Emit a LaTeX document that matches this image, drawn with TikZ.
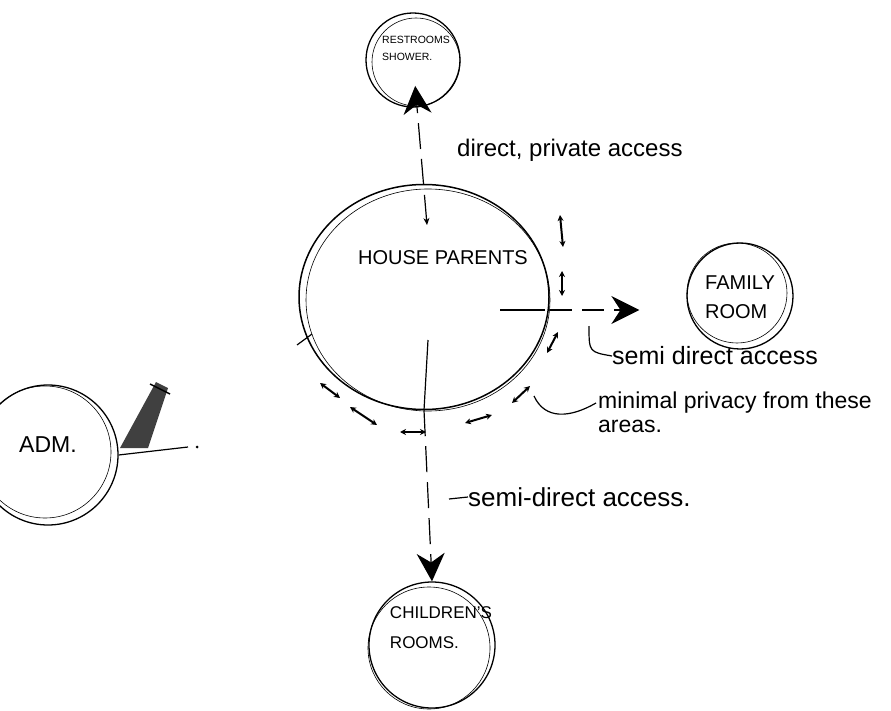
\documentclass[tikz,border=0pt]{standalone}
\usepackage{fontspec}
\setmainfont{Liberation Sans}
\usetikzlibrary{arrows.meta,shapes.geometric}
\begin{document}
\begin{tikzpicture}[x=1pt,y=-1pt,
  room/.style={circle,draw,line width=1.3pt,inner sep=0pt},
  lbl/.style={align=left,inner sep=0pt},
  note/.style={anchor=west,inner sep=0pt,font=\fontsize{24}{24}\selectfont},
  dbl/.style={line width=2pt,{Stealth[length=6pt,width=6pt]}-{Stealth[length=6pt,width=6pt]}},
  bighead/.style={-{Stealth[length=28pt,width=28pt]}},
  conn/.style={line width=1.2pt},
  dsh/.style={dash pattern=on 26pt off 10pt},
  sketch/.style={line width=0.6pt},
]
\useasboundingbox (0,0) rectangle (891,711);
% rooms
\node[room,minimum size=94pt] (rest) at (413,60) {};
\node[lbl,font=\fontsize{10.5}{17}\selectfont] (restl) at (416,48) {RESTROOMS\\SHOWER.};
\node[ellipse,draw,line width=1.5pt,minimum width=250pt,minimum height=225pt,inner sep=0pt] (hp) at (424,297) {};
\node[inner sep=0pt,font=\fontsize{20}{20}\selectfont] (hpl) at (443,258) {HOUSE PARENTS};
\node[room,minimum size=106pt] (fam) at (740,296) {};
\node[lbl,font=\fontsize{20}{29}\selectfont] (faml) at (740,297) {FAMILY\\ROOM};
\node[room,minimum size=140pt] (adm) at (48,455) {};
\node[inner sep=0pt,font=\fontsize{23}{23}\selectfont] (adml) at (48,445) {ADM.};
\node[room,minimum size=126pt] (child) at (432,645) {};
\node[lbl,font=\fontsize{17}{30}\selectfont] (childl) at (441,628) {CHILDREN'S\\ROOMS.};
% sketchy second outlines
\draw[sketch] (416,62) circle (44);
\draw[sketch] (428,300) ellipse (122 and 111);
\draw[sketch] (737,293) circle (50);
\draw[sketch] (45,452) circle (66);
\draw[sketch] (429,648) circle (61);
% connectors
\coordinate (hpin) at (427,225);
\draw[conn,dsh,{Stealth[length=7pt,width=6pt]}-{Stealth[length=28pt,width=28pt]},shorten >=26pt]
  (hpin) -- (rest.center);
\coordinate (hpe) at (500,310);
\coordinate (hpc) at (428,340);
\draw[conn] (hpc) -- (hp.south);
\draw[conn] (hpe) -- (545,310);
\draw[conn,dash pattern=on 22pt off 10pt,bighead,shorten >=47pt] (550,310) coordinate (hpe2) -- (hpe -| fam.west);
\draw[conn,dsh,bighead] (hp.south) -- (child.north);
\draw[conn] (297,345) -- (312,334);
% adm arrow
\coordinate (admB) at (188,447);
\draw[conn] (adm.east) -- (admB);
\fill[black!75] (120,448) -- (156,382) -- (168,388) -- (148,448) -- cycle;
\draw[line width=1.5pt] (150,384) -- (170,394);
\fill (197,447) circle (1.5);
% double-headed privacy marks
\draw[dbl] (560,215) -- (563,247);
\draw[dbl] (562,271) -- (562,296);
\draw[dbl] (558,332) -- (547,353);
\draw[dbl] (320,383) -- (340,398);
\draw[dbl] (350,407) -- (377,425);
\draw[dbl] (400,432) -- (426,432);
\draw[dbl] (465,423) -- (492,415);
\draw[dbl] (512,403) -- (530,386);
% notes
\node[note] (n1) at (457,150) {direct, private access};
\node[note,font=\fontsize{25}{25}\selectfont] (n2) at (612,356) {semi direct access};
\draw[conn] (589,326) .. controls (589,352) .. (n2.west);
\node[note,align=left,font=\fontsize{23}{24}\selectfont] (n3) at (598,412) {minimal privacy from these\\areas.};
\draw[conn] (534,396) .. controls (545,420) and (570,418) .. (596,403);
\node[note,font=\fontsize{26}{26}\selectfont] (n4) at (468,497) {semi-direct access.};
\draw[conn] (449,499) -- (n4.west);
\end{tikzpicture}
\end{document}
